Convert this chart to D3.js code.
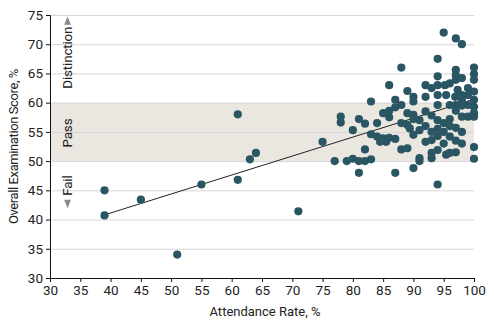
<!DOCTYPE html>
<html>
<head>
<meta charset="utf-8">
<script src="https://cdn.jsdelivr.net/npm/d3@7"></script>
<style>
  body { margin: 0; background: #fff; }
  text { font-family: Roboto, "Open Sans", sans-serif; fill: #222; }
</style>
</head>
<body>
<div id="chart"></div>
<script>
// attendance rate (%) and overall exam score (%) per student
var attendance = [39, 39, 45, 51, 55, 61, 61, 63, 64, 71, 75, 77, 78, 78, 79, 80, 80, 81, 81, 81,
  82, 82, 82, 83, 83, 83, 84, 84, 84.5, 85, 85, 85.5, 86, 86, 86, 87, 87, 87, 88, 88,
  88, 88, 89, 89, 89, 89.4, 89, 90, 90, 90, 90, 90, 90, 91, 91, 92, 92, 92, 92, 93,
  93, 93, 93, 94, 94, 94, 94, 94, 94, 94, 94, 94, 94, 95, 95.2, 95, 95, 95, 95.4, 95.4,
  96, 96, 96, 96, 96, 96.9, 97, 97, 97, 97, 97, 97, 97, 97, 97.3, 98, 98, 98, 98, 98,
  98, 98, 99, 99, 99, 99, 100, 100, 100, 100, 100, 100, 100, 100, 100, 100,
  91, 92, 93, 93, 96, 97, 86, 87, 91, 98];
var score = [45, 40.7, 43.4, 34, 46, 58, 46.8, 50.3, 51.4, 41.4, 53.3, 50, 57.6, 56.6, 50, 50.4, 55.3, 57.2, 50, 48,
  56.4, 50, 52, 60.2, 54.6, 50.3, 56.5, 54.2, 53.3, 58.2, 53.9, 53.3, 58.6, 57.5, 63, 59.2, 60.5, 48, 59.6, 56.5,
  52, 66, 62, 58.2, 56.2, 55.6, 52.2, 61, 60.2, 57.9, 57.2, 54.5, 48.8, 50.5, 50, 63, 61, 53.3, 58.5, 62.5,
  51.4, 50.5, 57.8, 67.5, 64.5, 63, 61.3, 51.9, 46, 59.6, 57, 55.5, 54.3, 72, 63, 56.5, 55, 53, 51.1, 61.3,
  63.3, 59.6, 51.4, 57.2, 54.2, 61, 71, 65.6, 64.7, 63.9, 59.6, 51.5, 55.7, 53.5, 62.2, 70, 64.2, 61.3, 59.5, 55,
  53, 57.6, 62.5, 61.3, 57.6, 59.6, 66, 64.9, 63.9, 61.9, 59.3, 58.2, 57.6, 52.4, 50.4, 60.5,
  55.3, 56, 55, 53.6, 56, 58.6, 54, 53.8, 57, 60.5];

// fitted line end points
var fitX = [39, 100];
var fitY = [40.8, 60.6];

var xTicks = [30, 35, 40, 45, 50, 55, 60, 65, 70, 75, 80, 85, 90, 95, 100];
var yTicks = [30, 35, 40, 45, 50, 55, 60, 65, 70, 75];

// score bands
var bandNames = ["Distinction", "Pass", "Fail"];
var bandLabelAt = [67.7, 54.8, 45.8];
var passBand = [50, 60];

var margin = { top: 15, right: 20, bottom: 47, left: 50 },
    width = 494 - margin.left - margin.right,
    height = 325 - margin.top - margin.bottom;

var svg = d3.select("#chart")
    .append("svg")
    .attr("width", width + margin.left + margin.right)
    .attr("height", height + margin.top + margin.bottom)
    .append("g")
    .attr("transform", "translate(" + margin.left + "," + margin.top + ")");

var x = d3.scaleLinear().domain([30, 100]).range([0, width]);
var y = d3.scaleLinear().domain([30, 75]).range([height, 0]);

// pass band
svg.append("rect")
    .attr("x", 0)
    .attr("y", y(passBand[1]))
    .attr("width", width)
    .attr("height", y(passBand[0]) - y(passBand[1]))
    .style("fill", "#e9e7e0");

// gridlines
svg.selectAll("grid")
    .data(yTicks.slice(1))
    .enter()
    .append("line")
    .attr("x1", 0)
    .attr("x2", width)
    .attr("y1", function (d) { return y(d) + 0.5; })
    .attr("y2", function (d) { return y(d) + 0.5; })
    .style("stroke", "#d6d6d6")
    .style("stroke-width", 1);

// axes
var xAxis = svg.append("g")
    .attr("transform", "translate(0," + height + ")")
    .call(d3.axisBottom(x).tickValues(xTicks).tickSizeOuter(0).tickSize(4).tickPadding(3));
var yAxis = svg.append("g")
    .call(d3.axisLeft(y).tickValues(yTicks).tickSizeOuter(0).tickSize(4).tickPadding(3));
[xAxis, yAxis].forEach(function (a) {
    a.select(".domain").style("stroke", "#111");
    a.selectAll(".tick line").style("stroke", "#111");
    a.selectAll(".tick text").style("font-size", "13.5px").style("fill", "#222")
        .style("font-family", "Roboto, sans-serif");
});

// axis titles
svg.append("text")
    .attr("x", width / 2 + 3)
    .attr("y", height + 38)
    .attr("text-anchor", "middle")
    .style("font-size", "13px")
    .text("Attendance Rate, %");
svg.append("text")
    .attr("transform", "translate(" + (-32) + "," + (height / 2) + ") rotate(-90)")
    .attr("text-anchor", "middle")
    .style("font-size", "13px")
    .style("letter-spacing", "-0.4px")
    .text("Overall Examination Score, %");

// band labels
var labelX = x(32.9);
svg.selectAll("bandLabels")
    .data(bandNames)
    .enter()
    .append("text")
    .attr("transform", function (d, i) { return "translate(" + labelX + "," + y(bandLabelAt[i]) + ") rotate(-90)"; })
    .attr("text-anchor", "middle")
    .attr("dy", "0.36em")
    .style("font-size", "13.5px")
    .style("letter-spacing", "-0.2px")
    .style("fill", "#222")
    .text(function (d) { return d; });

// arrows
var tri = d3.symbol().type(d3.symbolTriangle).size(28);
svg.append("path")
    .attr("d", tri)
    .attr("transform", "translate(" + labelX + "," + y(73.8) + ") scale(0.85,1.2)")
    .style("fill", "#8a8a8a");
svg.append("path")
    .attr("d", tri)
    .attr("transform", "translate(" + labelX + "," + y(42.9) + ") rotate(180) scale(0.85,1.2)")
    .style("fill", "#8a8a8a");

// fit line
svg.append("line")
    .attr("x1", x(fitX[0]))
    .attr("y1", y(fitY[0]))
    .attr("x2", x(fitX[1]))
    .attr("y2", y(fitY[1]))
    .style("stroke", "#222")
    .style("stroke-width", 1);

// dots
svg.selectAll("dots")
    .data(attendance)
    .enter()
    .append("circle")
    .attr("cx", function (d) { return x(d); })
    .attr("cy", function (d, i) { return y(score[i]); })
    .attr("r", 4.1)
    .style("fill", "#2a5664");
</script>
</body>
</html>
